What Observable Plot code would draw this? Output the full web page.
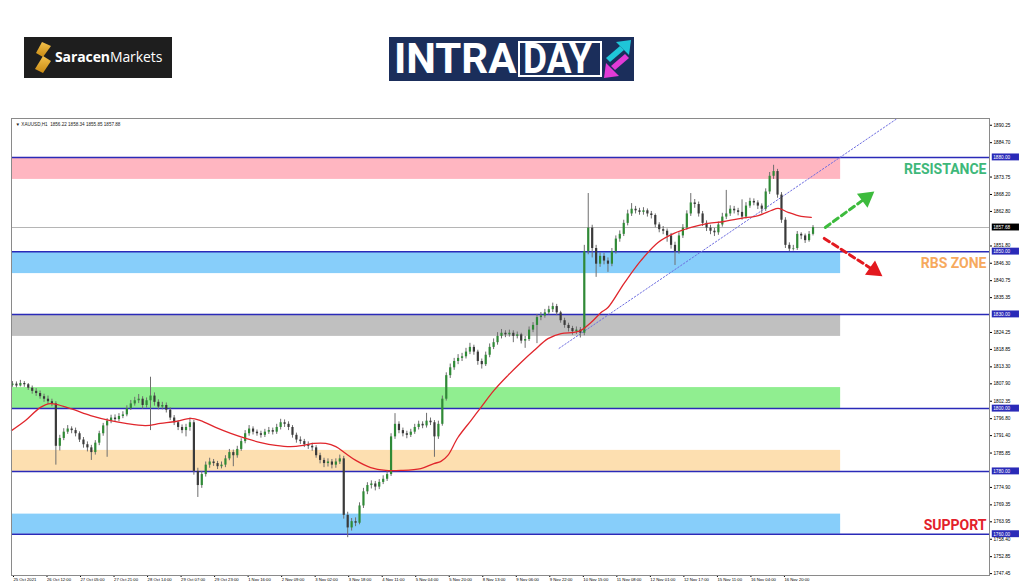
<!DOCTYPE html>
<html><head><meta charset="utf-8">
<script src="https://cdn.jsdelivr.net/npm/d3@7"></script>
<script src="https://cdn.jsdelivr.net/npm/@observablehq/plot@0.6"></script>
<style>
html,body{margin:0;padding:0;background:#fff;}
body{width:1024px;height:587px;overflow:hidden;font-family:"DejaVu Sans",sans-serif;}
#header{position:relative;height:117px;}
#logo1{position:absolute;left:24px;top:37px;width:148px;height:41px;background:#1e1e1e;}
#logo1 .txt{position:absolute;left:31px;top:10px;color:#fff;font-family:"Open Sans",sans-serif;font-size:14px;letter-spacing:-0.1px;}
#logo1 .txt b{font-weight:700;}
#logo2{position:absolute;left:389px;top:37px;width:245px;height:44px;background:#1b2e5b;}
#logo2 .intra{position:absolute;left:5px;top:0;height:44px;line-height:44px;font-family:Roboto,sans-serif;font-weight:700;font-size:42px;color:#fff;}
#logo2 .daybox{position:absolute;left:129px;top:4px;width:80px;height:32px;border:2px solid #fff;}
#logo2 .daytxt{position:absolute;left:134px;top:0;height:44px;line-height:44px;font-family:Roboto,sans-serif;font-weight:700;font-size:42px;color:#fff;transform:scaleX(0.88);transform-origin:left center;}
#logo2 svg{position:absolute;left:213px;top:0;}
#chart svg{display:block;}
</style></head><body>
<div id="header">
  <div id="logo1">
    <svg width="28" height="41" style="position:absolute;left:6px;top:0">
      <defs><linearGradient id="gold" x1="0" y1="0" x2="0" y2="1"><stop offset="0" stop-color="#f3c14b"/><stop offset="1" stop-color="#c98a12"/></linearGradient></defs>
      <polygon points="12,5 21,9 13,20 6,16" fill="url(#gold)"/>
      <polygon points="13,19 21,24 13,36 5,32" fill="url(#gold)"/>
    </svg>
    <div class="txt"><b>Saracen</b>Markets</div>
  </div>
  <div id="logo2">
    <div class="intra">INTRA</div>
    <div class="daybox"></div>
    <div class="daytxt">DAY</div>
    <svg width="31" height="44">
      <polygon points="4,21 18,9 22,13 8,25" fill="#1fc6d8"/>
      <polygon points="29,3 14,5 27,18" fill="#1fc6d8"/>
      <polygon points="27,21 13,33 9,29 23,17" fill="#e23bd6"/>
      <polygon points="2,41 17,39 4,26" fill="#e23bd6"/>
    </svg>
  </div>
</div>
<div id="chart"></div>
<script>
// ---- Candles (2-hour steps, bar index in hours) ----
const opens=[1807.4,1807.8,1807.2,1808.0,1807.6,1806.5,1805.5,1804.8,1803.8,1803.0,
1802.2,1801.5,1788.0,1790.5,1792.5,1793.5,1793.0,1792.0,1790.0,1788.5,
1787.5,1786.0,1789.0,1792.0,1794.5,1796.0,1797.0,1796.5,1797.5,1798.0,
1800.0,1801.5,1802.5,1803.0,1801.0,1802.5,1804.0,1802.0,1800.5,1801.0,
1799.5,1797.0,1795.5,1794.0,1793.0,1794.0,1795.5,1780.0,1775.5,1779.0,
1782.0,1783.0,1782.5,1781.5,1782.0,1784.0,1786.0,1785.0,1787.0,1789.5,
1792.0,1793.5,1792.5,1792.0,1791.5,1792.5,1793.0,1792.5,1794.0,1795.5,
1795.0,1794.0,1791.5,1790.0,1789.5,1788.5,1788.0,1787.5,1785.0,1783.5,
1782.5,1783.0,1782.0,1783.0,1784.0,1766.0,1762.0,1764.0,1763.5,1769.0,
1773.5,1775.5,1776.0,1775.0,1776.5,1777.5,1779.0,1791.0,1795.0,1793.0,
1792.0,1791.5,1792.5,1794.0,1795.0,1794.5,1796.0,1795.5,1791.0,1795.0,
1803.0,1810.5,1813.0,1815.0,1816.0,1816.5,1818.0,1819.5,1818.0,1815.0,
1814.0,1817.0,1819.5,1821.0,1823.0,1824.0,1823.5,1824.0,1823.0,1823.5,
1821.5,1822.0,1825.0,1826.5,1829.0,1829.5,1830.5,1831.5,1832.5,1830.5,
1828.0,1826.5,1825.5,1824.5,1825.0,1824.0,1850.0,1857.5,1851.0,1846.0,
1848.5,1847.0,1846.0,1850.0,1854.0,1855.5,1859.0,1862.0,1863.5,1863.0,
1862.5,1863.0,1862.0,1861.5,1858.5,1857.0,1856.5,1855.0,1852.0,1850.0,
1855.0,1857.5,1862.0,1865.5,1865.0,1862.0,1859.0,1857.5,1856.5,1856.0,
1858.5,1861.0,1862.0,1863.5,1863.0,1862.5,1861.0,1864.5,1866.0,1865.5,
1864.5,1863.5,1869.0,1874.0,1875.5,1868.0,1860.0,1852.0,1850.8,1851.0,
1855.5,1855.0,1853.5,1855.5];
const highs=[1808.6,1808.5,1809.0,1808.6,1808.0,1807.2,1806.4,1805.6,1804.6,1804.0,
1803.0,1802.2,1791.5,1793.6,1794.6,1794.2,1793.8,1792.6,1790.8,1789.4,
1788.3,1789.8,1792.8,1795.3,1796.8,1797.9,1798.0,1798.4,1799.0,1800.9,
1802.6,1803.6,1804.5,1803.8,1803.4,1810.0,1805.0,1802.8,1802.0,1801.8,
1800.2,1797.8,1796.2,1794.8,1795.0,1797.0,1796.2,1781.0,1780.0,1783.0,
1784.2,1783.8,1783.2,1783.0,1785.0,1787.0,1786.8,1788.0,1790.4,1793.0,
1794.6,1794.2,1793.2,1792.8,1793.4,1794.0,1793.8,1795.0,1796.6,1796.4,
1795.8,1794.6,1792.2,1791.0,1790.2,1789.4,1789.0,1788.2,1785.8,1784.2,
1784.0,1783.8,1784.0,1785.2,1784.8,1767.0,1765.0,1765.2,1770.0,1774.6,
1776.4,1777.0,1776.8,1777.4,1778.6,1780.0,1792.0,1798.4,1795.8,1793.8,
1792.8,1793.4,1795.0,1796.0,1795.8,1798.5,1797.0,1796.2,1796.0,1804.0,
1811.4,1814.2,1816.0,1817.2,1817.6,1819.2,1820.8,1820.2,1818.6,1815.8,
1818.0,1820.6,1822.2,1824.2,1825.2,1824.8,1825.0,1824.8,1824.4,1824.0,
1823.0,1826.0,1827.4,1830.0,1830.6,1831.6,1832.6,1833.6,1833.2,1831.0,
1828.8,1827.2,1826.2,1826.0,1825.8,1852.0,1868.5,1858.4,1852.0,1849.6,
1849.4,1848.0,1851.0,1855.0,1856.6,1860.0,1863.2,1865.3,1864.4,1863.8,
1864.0,1863.6,1862.8,1862.0,1859.2,1858.0,1857.2,1855.8,1853.0,1856.0,
1858.6,1863.0,1868.5,1866.6,1865.8,1862.8,1859.8,1858.4,1857.4,1859.4,
1862.2,1869.5,1864.6,1864.4,1863.8,1866.5,1865.6,1867.0,1866.8,1866.2,
1865.2,1870.0,1875.2,1877.5,1876.2,1868.8,1860.8,1852.8,1852.0,1856.4,
1856.0,1855.6,1856.4,1858.3];
const lows=[1806.8,1806.6,1806.9,1806.8,1805.8,1804.6,1803.9,1803.0,1802.0,1801.3,
1800.6,1782.0,1786.5,1789.8,1791.8,1792.0,1791.0,1789.2,1787.4,1786.2,
1783.5,1785.2,1788.2,1791.2,1784.5,1795.2,1795.6,1795.8,1796.8,1797.4,
1799.4,1800.8,1801.6,1799.8,1800.2,1793.0,1800.8,1799.6,1799.6,1798.6,
1796.2,1794.6,1793.0,1792.0,1791.0,1792.8,1778.8,1771.7,1774.6,1778.2,
1781.0,1781.6,1780.6,1780.8,1781.2,1783.4,1781.5,1784.2,1786.4,1788.8,
1791.2,1791.6,1791.2,1790.6,1790.8,1791.8,1791.6,1791.8,1793.2,1794.0,
1793.0,1790.6,1789.0,1788.6,1787.6,1787.0,1786.4,1784.2,1782.4,1781.2,
1781.4,1780.8,1781.0,1782.2,1764.8,1758.9,1761.0,1762.4,1763.0,1768.2,
1772.6,1774.4,1773.8,1774.2,1775.8,1776.8,1778.4,1790.2,1792.0,1791.0,
1790.4,1790.8,1791.8,1793.2,1793.6,1793.8,1794.6,1784.5,1790.2,1794.4,
1802.4,1809.6,1812.2,1814.0,1815.0,1815.8,1817.2,1817.0,1813.8,1812.6,
1813.4,1816.2,1818.8,1820.2,1822.2,1822.6,1822.8,1821.0,1822.2,1820.6,
1819.2,1821.4,1824.2,1820.7,1828.0,1828.8,1829.8,1830.6,1829.6,1827.2,
1825.6,1824.4,1823.4,1823.6,1822.5,1823.2,1849.0,1848.0,1841.8,1845.0,
1845.8,1843.4,1845.2,1849.2,1853.0,1854.8,1858.2,1861.2,1862.0,1861.6,
1861.6,1861.0,1860.4,1857.6,1856.0,1855.4,1853.0,1850.8,1845.6,1849.2,
1854.2,1856.8,1861.2,1863.8,1861.0,1858.0,1856.4,1855.4,1854.8,1855.2,
1857.8,1860.2,1861.2,1862.0,1861.4,1860.0,1860.4,1863.8,1864.6,1863.4,
1862.0,1862.8,1868.2,1873.0,1867.0,1859.0,1851.0,1850.0,1850.2,1850.4,
1853.8,1852.6,1853.0,1855.0];
const closes=[1807.8,1807.2,1808.0,1807.6,1806.5,1805.5,1804.8,1803.8,1803.0,1802.2,
1801.5,1788.0,1790.5,1792.5,1793.5,1793.0,1792.0,1790.0,1788.5,1787.5,
1786.0,1789.0,1792.0,1794.5,1796.0,1797.0,1796.5,1797.5,1798.0,1800.0,
1801.5,1802.5,1803.0,1801.0,1802.5,1804.0,1802.0,1800.5,1801.0,1799.5,
1797.0,1795.5,1794.0,1793.0,1794.0,1795.5,1780.0,1775.5,1779.0,1782.0,
1783.0,1782.5,1781.5,1782.0,1784.0,1786.0,1785.0,1787.0,1789.5,1792.0,
1793.5,1792.5,1792.0,1791.5,1792.5,1793.0,1792.5,1794.0,1795.5,1795.0,
1794.0,1791.5,1790.0,1789.5,1788.5,1788.0,1787.5,1785.0,1783.5,1782.5,
1783.0,1782.0,1783.0,1784.0,1766.0,1762.0,1764.0,1763.5,1769.0,1773.5,
1775.5,1776.0,1775.0,1776.5,1777.5,1779.0,1791.0,1795.0,1793.0,1792.0,
1791.5,1792.5,1794.0,1795.0,1794.5,1796.0,1795.5,1791.0,1795.0,1803.0,
1810.5,1813.0,1815.0,1816.0,1816.5,1818.0,1819.5,1818.0,1815.0,1814.0,
1817.0,1819.5,1821.0,1823.0,1824.0,1823.5,1824.0,1823.0,1823.5,1821.5,
1822.0,1825.0,1826.5,1829.0,1829.5,1830.5,1831.5,1832.5,1830.5,1828.0,
1826.5,1825.5,1824.5,1825.0,1824.0,1850.0,1857.5,1851.0,1846.0,1848.5,
1847.0,1846.0,1850.0,1854.0,1855.5,1859.0,1862.0,1863.5,1863.0,1862.5,
1863.0,1862.0,1861.5,1858.5,1857.0,1856.5,1855.0,1852.0,1850.0,1855.0,
1857.5,1862.0,1865.5,1865.0,1862.0,1859.0,1857.5,1856.5,1856.0,1858.5,
1861.0,1862.0,1863.5,1863.0,1862.5,1861.0,1864.5,1866.0,1865.5,1864.5,
1863.5,1869.0,1874.0,1875.5,1868.0,1860.0,1852.0,1850.8,1851.0,1855.5,
1855.0,1853.5,1855.5,1857.7];
const barStep = 2; // hours per candle

// ---- Moving average (hour index, price) ----
const maBars=[-0.5,6.6,14.2,19.3,29.4,39.6,49.7,57.4,67.5,75.1,82.7,90.4,95.4,103.0,110.7,118.3,125.9,133.5,141.1,147.7,152.8,158.9,164.0,169.0,174.1,181.7,189.3,197.0,207.1,213.7,217.3,220.8,225.9,232.5,237.6,244.2,251.3,257.9,264.5,271.6,278.2,284.8,288.3,293.4,298.5,302.0,310.2,318.8,327.4,335.5,344.2,352.8,360.9,369.5,378.2,384.8,388.3,393.4,400.0,405.1];
const maPrices=[1793.0,1796.2,1800.4,1801.6,1800.0,1797.8,1796.2,1795.3,1794.6,1795.3,1795.9,1796.9,1796.2,1794.0,1792.1,1790.5,1789.2,1788.3,1787.9,1788.3,1788.9,1788.9,1787.9,1785.7,1783.5,1781.2,1780.3,1780.3,1780.9,1782.5,1783.2,1785.1,1790.8,1796.2,1800.4,1805.8,1810.6,1814.7,1818.5,1822.3,1823.9,1824.3,1824.9,1827.4,1830.6,1832.2,1839.9,1847.2,1852.9,1855.8,1857.7,1859.0,1859.6,1860.6,1861.5,1863.1,1863.8,1862.5,1861.2,1860.9];

// ---- Levels and zones ----
const levels=[1880,1850,1830,1800,1780,1760];
const currentPrice=1857.68;
const zoneNames=["resistance","rbs","gray","green","peach","support"];
const zoneHi=[1880,1850,1830,1806.7,1786.7,1766.4];
const zoneLo=[1873.0,1843.0,1823.0,1800,1780,1760];
const zoneEndBar=420;
const zoneLabels=["RESISTANCE","RBS ZONE","SUPPORT"];
const zoneLabelPrices=[1876.2,1846.2,1762.8];

// ---- Trend line & projection arrows ----
const trendBars=[277.2,448.7];
const trendPrices=[1819.2,1892.4];
const upArrowBars=[412.2,433.0];
const upArrowPrices=[1857.7,1867.2];
const downArrowBars=[411.7,437.0];
const downArrowPrices=[1854.2,1844.0];

// ---- Axes ----
const xTickBars=[0,17,34,51,68,85,102,119,136,153,170,187,204,221,238,255,272,289,306,323,340,357,374,391];
const xTickLabels=["25 Oct 2021","26 Oct 12:00","27 Oct 05:00","27 Oct 21:00","28 Oct 14:00","29 Oct 07:00","29 Oct 23:00","1 Nov 16:00","2 Nov 09:00","3 Nov 02:00","3 Nov 18:00","4 Nov 11:00","5 Nov 04:00","5 Nov 20:00","8 Nov 13:00","9 Nov 06:00","9 Nov 22:00","10 Nov 15:00","11 Nov 08:00","12 Nov 01:00","12 Nov 17:00","15 Nov 11:00","16 Nov 04:00","16 Nov 20:00"];
const yTicks=[1890.25,1884.70,1873.75,1868.20,1862.80,1851.80,1846.30,1840.75,1835.35,1824.25,1818.85,1813.30,1807.90,1802.35,1796.80,1791.40,1785.85,1774.90,1769.35,1763.95,1758.40,1752.85,1747.45];
const infoText="\u25BC XAUUSD,H1  1856.22 1858.34 1855.85 1857.88";

// ---- Styles ----
const zoneFill={resistance:"#ffb6c1",rbs:"#87cefa",gray:"#c0c0c0",green:"#90ee90",peach:"#fddfb0",support:"#87cefa"};
const labelFill={"RESISTANCE":"#3eb87a","RBS ZONE":"#f6a95e","SUPPORT":"#e3202a"};
const levelBlue="#2a2ab8", upCol="#2f8a36", downCol="#3a3a3a", wickCol="#6e6e6e";
const tinyFont="'Liberation Sans', Arial, sans-serif";

const candles=closes.map((c,i)=>({bar:i*barStep,o:opens[i],h:highs[i],l:lows[i],c}));
const ma=maBars.map((b,i)=>({bar:b,price:maPrices[i]}));
const zones=zoneNames.map((n,i)=>({name:n,hi:zoneHi[i],lo:zoneLo[i]}));
const labels=zoneLabels.map((t,i)=>({label:t,price:zoneLabelPrices[i]}));
const trend=trendBars.map((b,i)=>({bar:b,price:trendPrices[i]}));
const upArrow=upArrowBars.map((b,i)=>({bar:b,price:upArrowPrices[i]}));
const downArrow=downArrowBars.map((b,i)=>({bar:b,price:downArrowPrices[i]}));
const xMax=495.5;
const axisLabels=[...levels.map(v=>({v,bg:levelBlue})),{v:currentPrice,bg:"#000"}];

const chart=Plot.plot({
  width:1024,height:469,
  marginTop:1,marginBottom:11,marginLeft:11,marginRight:35,
  x:{domain:[-0.5,xMax],axis:null},
  y:{domain:[1746.85,1892.4],axis:null},
  style:{fontFamily:"'DejaVu Sans', sans-serif",background:"#fff",overflow:"visible"},
  marks:[
    Plot.rect(zones,{x1:()=>-0.5,x2:()=>zoneEndBar,y1:"lo",y2:"hi",fill:d=>zoneFill[d.name]}),
    Plot.ruleY([currentPrice],{stroke:"#b5b5b5",strokeWidth:1}),
    Plot.ruleY(levels,{stroke:levelBlue,strokeWidth:1.5}),
    Plot.line(trend,{x:"bar",y:"price",stroke:"#6d6de0",strokeWidth:1,strokeDasharray:"1.5,2"}),
    Plot.ruleX(candles,{x:"bar",y1:"l",y2:"h",stroke:wickCol,strokeWidth:1}),
    Plot.ruleX(candles,{x:"bar",y1:"o",y2:"c",stroke:d=>d.c>=d.o?upCol:downCol,strokeWidth:2.2}),
    Plot.line(ma,{x:"bar",y:"price",stroke:"#e0262c",strokeWidth:1.3,curve:"catmull-rom"}),
    Plot.line(upArrow,{x:"bar",y:"price",stroke:"#3dbb3d",strokeWidth:3,strokeDasharray:"6,4"}),
    Plot.line(downArrow,{x:"bar",y:"price",stroke:"#e3191f",strokeWidth:3,strokeDasharray:"6,4"}),
    Plot.dot([upArrow[1]],{x:"bar",y:"price",symbol:"triangle",r:6.5,fill:"#3dbb3d",stroke:"none",rotate:53}),
    Plot.dot([downArrow[1]],{x:"bar",y:"price",symbol:"triangle",r:6.5,fill:"#e3191f",stroke:"none",rotate:125}),
    Plot.text(labels,{y:"price",text:"label",frameAnchor:"right",dx:-3,textAnchor:"end",fill:d=>labelFill[d.label],fontSize:14,fontWeight:"bold",fontFamily:"Roboto, sans-serif"}),
    Plot.text([infoText],{text:d=>d,frameAnchor:"top-left",dx:4,dy:4,fontSize:4.6,fontFamily:tinyFont,fill:"#222"}),
    Plot.axisY({ticks:yTicks,anchor:"right",tickSize:2,tickPadding:2,fontSize:4.7,fontFamily:tinyFont,tickFormat:d=>d.toFixed(2),label:null}),
    Plot.axisX({ticks:xTickBars,anchor:"bottom",tickSize:2,tickPadding:1,fontSize:4.2,fontFamily:tinyFont,textAnchor:"start",dx:1,tickFormat:d=>xTickLabels[xTickBars.indexOf(d)],label:null}),
    Plot.rect(axisLabels,{x1:()=>xMax+1.4,x2:()=>xMax+15.2,y1:d=>d.v-1.1,y2:d=>d.v+1.1,fill:d=>d.bg,clip:false}),
    Plot.text(axisLabels,{x:()=>xMax+1.9,y:"v",text:d=>d.v.toFixed(2),fill:"#fff",fontSize:4.7,fontFamily:tinyFont,textAnchor:"start"}),
    Plot.frame({stroke:"#8a8a8a",strokeWidth:1})
  ]
});
document.getElementById("chart").appendChild(chart);
</script>
</body></html>
